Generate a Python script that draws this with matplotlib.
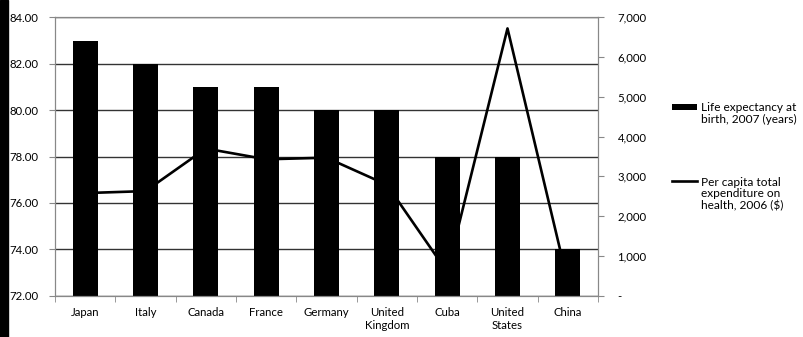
import numpy as np
import matplotlib
matplotlib.use('Agg')
import matplotlib.pyplot as plt
from matplotlib.patches import Rectangle
from matplotlib.lines import Line2D
from matplotlib.legend_handler import HandlerBase
from matplotlib.ticker import FuncFormatter

plt.rcParams['font.family'] = ['Lato', 'DejaVu Sans']
plt.rcParams['font.size'] = 8.2

#%% data
countries = ['Japan', 'Italy', 'Canada', 'France', 'Germany',
             'United\nKingdom', 'Cuba', 'United\nStates', 'China']
life_exp = [83, 82, 81, 81, 80, 80, 78, 78, 74]
health_spend = [2580, 2630, 3700, 3430, 3470, 2790, 600, 6720, 340]
label_bar = 'Life expectancy at\nbirth, 2007 (years)'
label_line = 'Per capita total\nexpenditure on\nhealth, 2006 ($)'


# legend handle drawn next to the first line of a multi-line label
class FirstLineHandler(HandlerBase):
    def __init__(self, kind, nlines):
        super().__init__()
        self.kind = kind
        self.nlines = nlines

    def create_artists(self, legend, orig_handle, xdescent, ydescent,
                       width, height, fontsize, trans):
        y = (height - ydescent) / 2 + (self.nlines - 1) / 2 * fontsize * 1.1
        if self.kind == 'bar':
            a = Rectangle((-xdescent, y - 0.25 * fontsize), width,
                          0.5 * fontsize, facecolor='black', transform=trans)
        else:
            a = Line2D([-xdescent, -xdescent + width], [y, y], color='black',
                       linewidth=1.9, transform=trans)
        return [a]


#%% figure
fig = plt.figure(figsize=(8.04, 3.37), dpi=100)
fig.patches.append(Rectangle((0, 0), 8/804, 1, transform=fig.transFigure,
                             color='black', zorder=0))
ax = fig.add_axes([55/804, 41.3/337, 543/804, 278.4/337])
x = np.arange(len(countries))

bars = ax.bar(x, life_exp, width=0.41, color='black', zorder=2)
ax.set_ylim(72, 84)
ax.set_yticks(np.arange(72, 84.1, 2))
ax.yaxis.set_major_formatter(FuncFormatter(lambda v, p: '%.2f' % v))
ax.set_xlim(-0.5, len(countries) - 0.5)
ax.set_xticks(x)
ax.set_xticklabels(countries)
ax.set_xticks(np.arange(-0.5, len(countries)), minor=True)
ax.tick_params(axis='x', which='major', length=0, pad=8)
ax.tick_params(axis='x', which='minor', length=4, color='#888888')
ax.tick_params(axis='y', length=4, color='#888888', pad=8)
ax.grid(axis='y', color='#333333', linewidth=1, zorder=1)
for s in ax.spines.values():
    s.set_color('#888888')

ax2 = ax.twinx()
line, = ax2.plot(x, health_spend, color='black', linewidth=1.9)
ax2.set_ylim(0, 7000)
ax2.set_yticks(np.arange(0, 7001, 1000))
ax2.yaxis.set_major_formatter(
    FuncFormatter(lambda v, p: '-' if v == 0 else '{:,.0f}'.format(v)))
ax2.tick_params(axis='y', length=4, color='#888888', pad=10)
for s in ax2.spines.values():
    s.set_color('#888888')

leg = ax2.legend([bars, line], [label_bar, label_line], loc='upper left',
                 bbox_to_anchor=(1.128, 0.712), frameon=False, fontsize=8.6,
                 labelspacing=4.3, handlelength=2.1, handletextpad=0.3,
                 borderaxespad=0,
                 handler_map={bars: FirstLineHandler('bar', 2),
                              line: FirstLineHandler('line', 3)})
for t in leg.get_texts():
    t.set_linespacing(1.1)

fig.savefig('out.png', dpi=100)
